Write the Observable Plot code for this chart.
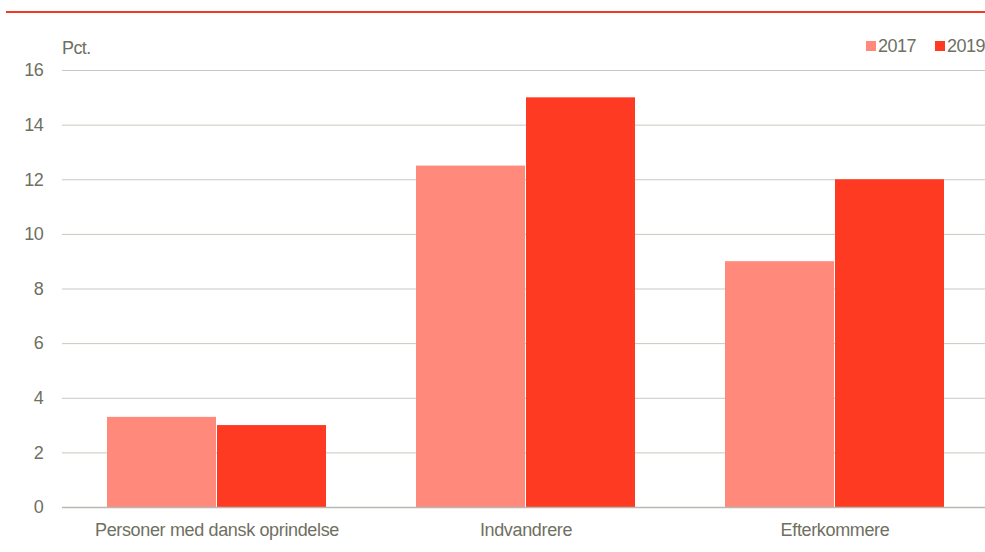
<!DOCTYPE html>
<html>
<head>
<meta charset="utf-8">
<script src="https://cdn.jsdelivr.net/npm/d3@7"></script>
<script src="https://cdn.jsdelivr.net/npm/@observablehq/plot@0.6"></script>
<style>
  html, body { margin: 0; padding: 0; background: #fff; }
  #wrap { position: relative; width: 985px; height: 552px; overflow: hidden; font-family: "Liberation Sans", Arial, sans-serif; }
  #rule { position: absolute; left: 6px; right: 0; top: 11px; height: 2px; background: #f03a24; }
  #unit { position: absolute; left: 62px; top: 38px; font-size: 18px; color: #6f6f62; letter-spacing: -0.6px; }
  #legend { position: absolute; left: 866px; top: 36px; font-size: 18px; color: #6f6f62; letter-spacing: -0.5px; white-space: nowrap; }
  #legend .item { margin-right: 19px; }
  #legend span.sw { display: inline-block; width: 10px; height: 10px; margin-right: 2px; vertical-align: 1px; }
  #chart svg { max-width: none !important; }
  #chart svg text { letter-spacing: -0.35px; }
</style>
</head>
<body>
<div id="wrap">
  <div id="rule"></div>
  <div id="unit">Pct.</div>
  <div id="legend"></div>
  <div id="chart"></div>
</div>
<script>
const categories = ["Personer med dansk oprindelse", "Indvandrere", "Efterkommere"];
const years = ["2017", "2019"];
const values2017 = [3.3, 12.5, 9.0];
const values2019 = [3.0, 15.0, 12.0];
const colors = ["#ff8a7b", "#ff3a22"];
const yTicks = [0, 2, 4, 6, 8, 10, 12, 14, 16];

const data = [];
categories.forEach((c, i) => {
  data.push({cat: c, year: years[0], value: values2017[i]});
  data.push({cat: c, year: years[1], value: values2019[i]});
});

const textColor = "#6f6f62";

const chart = Plot.plot({
  width: 989,
  height: 552,
  marginTop: 70,
  marginBottom: 45,
  marginLeft: 62,
  marginRight: 0,
  style: {fontFamily: "'Liberation Sans', Arial, sans-serif", fontSize: "18px", color: textColor, background: "transparent"},
  fx: {domain: categories, padding: 0, label: null, axis: "bottom", tickSize: 0, tickPadding: 16},
  x: {domain: years, paddingInner: 0.01, paddingOuter: 0.397, axis: null},
  y: {domain: [0, 16], ticks: yTicks, label: null},
  color: {domain: years, range: colors},
  marks: [
    Plot.gridY(yTicks, {stroke: "#c8c8c0", strokeOpacity: 1, strokeWidth: 1}),
    Plot.axisY(yTicks, {tickSize: 0, tickPadding: 19, label: null, fontSize: 18, textAnchor: "end"}),
    Plot.barY(data, {fx: "cat", x: "year", y: "value", fill: "year"}),
    Plot.ruleY([0], {stroke: "#b8b8b0", strokeWidth: 1.5})
  ]
});
document.getElementById("chart").appendChild(chart);

const legend = document.getElementById("legend");
years.forEach((y, i) => {
  const item = document.createElement("span");
  item.className = "item";
  item.innerHTML = `<span class="sw" style="background:${colors[i]}"></span>${y}`;
  legend.appendChild(item);
});
</script>
</body>
</html>
